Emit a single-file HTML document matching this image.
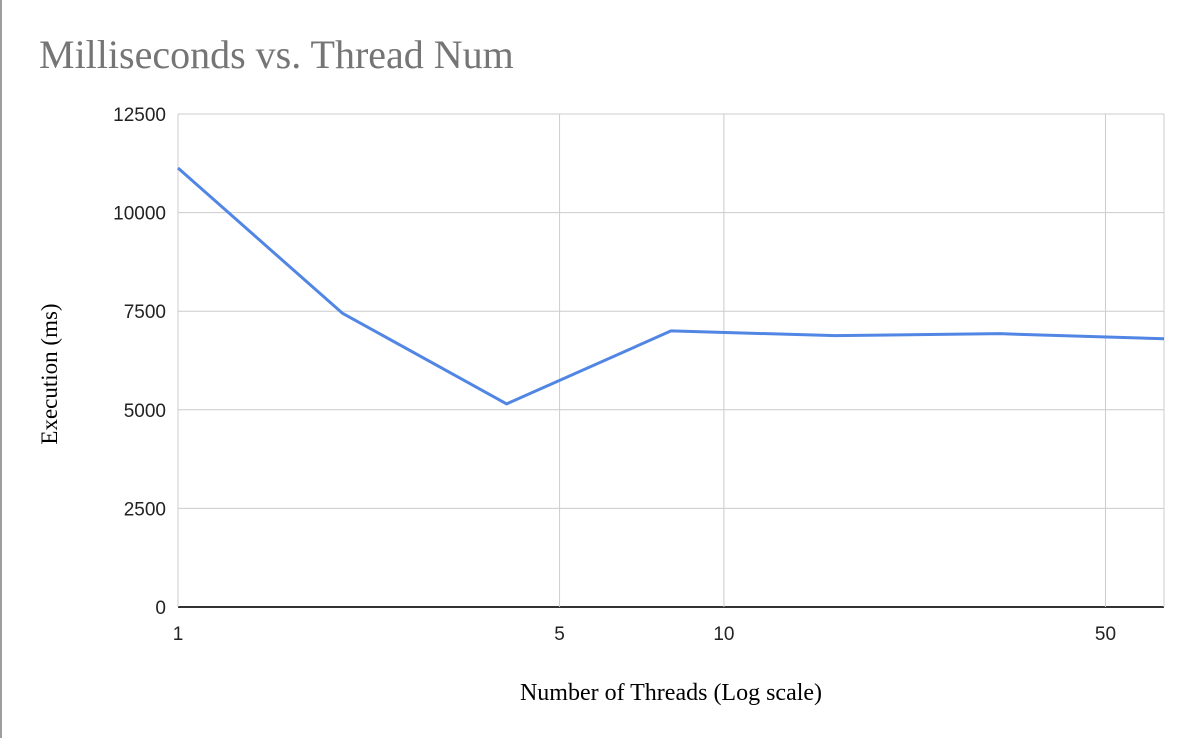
<!DOCTYPE html>
<html><head><meta charset="utf-8"><style>
html,body{margin:0;padding:0;background:#fff;}
body{width:1198px;height:738px;overflow:hidden;position:relative;}
</style></head><body>
<div style="position:absolute;left:0;top:0;width:2px;height:738px;background:#9e9e9e"></div>
<svg id="chart" width="1198" height="738" style="position:absolute;left:0;top:0">
<text x="39" y="68" font-family="Liberation Serif, serif" font-size="40" fill="#757575">Milliseconds vs. Thread Num</text>
<text x="671" y="700" text-anchor="middle" font-family="Liberation Serif, serif" font-size="24" fill="#000">Number of Threads (Log scale)</text>
<text transform="translate(57,374) rotate(-90)" text-anchor="middle" font-family="Liberation Serif, serif" font-size="23" fill="#000">Execution (ms)</text>
<g id="grid"></g><g id="series"></g>
</svg>
<script>
const threads=[1,2,4,8,16,32,64];
const millis=[11130,7450,5150,7000,6880,6930,6800];
const yTicks=[0,2500,5000,7500,10000,12500];
const xTicks=[1,5,10,50];
const L=178,R=1164,T=114,B=607,XMAX=64,YMAX=12500;
const decade=(R-L)/Math.log10(XMAX);
function xs(v){return L+Math.log10(v)*decade;}
function ys(v){return B-(v/YMAX)*(B-T);}
const NS="http://www.w3.org/2000/svg";
const grid=document.getElementById('grid'),ser=document.getElementById('series');
function mk(tag,attrs,parent){const e=document.createElementNS(NS,tag);for(const k in attrs)e.setAttribute(k,attrs[k]);parent.appendChild(e);return e;}
yTicks.forEach(v=>{
  const ln=mk('line',{x1:L,x2:R,y1:ys(v),y2:ys(v),stroke:v===0?'#333':'#ccc','stroke-width':v===0?2:1},grid);
  
  
  const t=mk('text',{x:L-12,y:ys(v)+7,'text-anchor':'end','font-family':'Liberation Sans, sans-serif','font-size':19,fill:'#222'},grid);
  t.textContent=v;
  
  
});
xTicks.forEach(v=>{
  const ln=mk('line',{x1:xs(v),x2:xs(v),y1:T,y2:B,stroke:'#ccc','stroke-width':1},grid);
  
  
  const t=mk('text',{x:xs(v),y:B+33,'text-anchor':'middle','font-family':'Liberation Sans, sans-serif','font-size':19,fill:'#222'},grid);
  t.textContent=v;
  
  
});
mk('line',{x1:R,x2:R,y1:T,y2:B,stroke:'#ccc','stroke-width':1},grid);
const p=mk('polyline',{points:threads.map((t,i)=>xs(t)+','+ys(millis[i])).join(' '),fill:'none',stroke:'#5286e4','stroke-width':3,'stroke-linejoin':'round'},ser);


</script>
</body></html>
